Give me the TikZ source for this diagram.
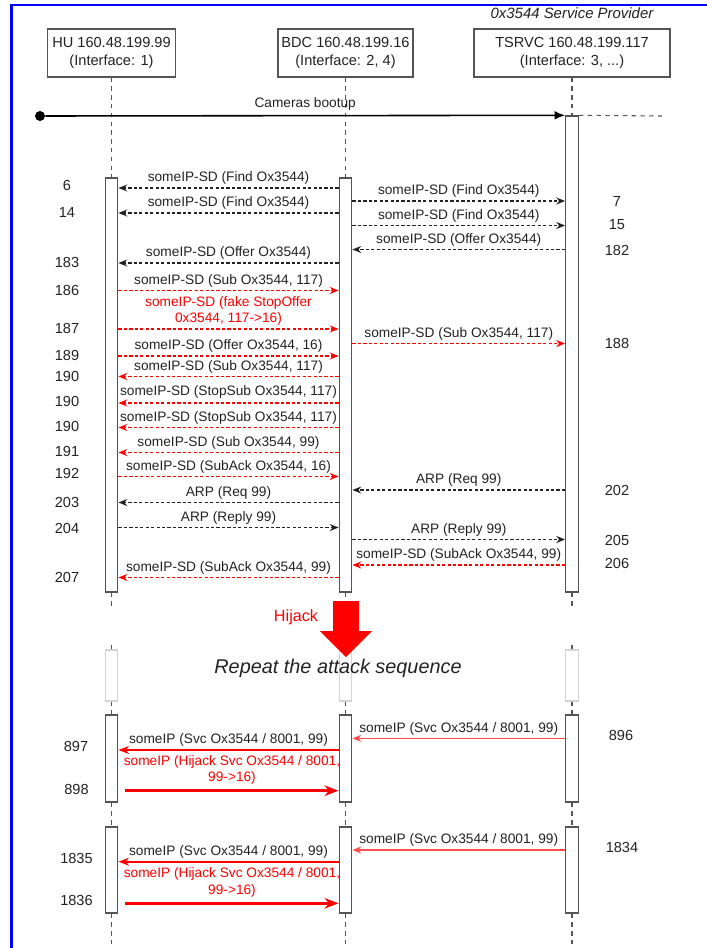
\documentclass[tikz,border=0pt]{standalone}
\usepackage{fontspec}
\setmainfont{Liberation Sans}
\usetikzlibrary{arrows.meta, positioning}
\definecolor{FrameBlue}{HTML}{0000FF}
\definecolor{HackRed}{HTML}{FF0000}
\definecolor{InkGray}{HTML}{222222}
\definecolor{LineGray}{HTML}{555555}
\definecolor{FadeGray}{HTML}{D4D4D4}

\tikzset{
  actor/.style={draw=LineGray, line width=0.8pt, fill=white, align=center,
    text=InkGray, font=\fontsize{8.3}{10.2}\selectfont, inner sep=0pt},
  bar/.style={draw=LineGray, line width=0.8pt, fill=white,
    minimum width=0.25cm, minimum height=#1*0.02cm, inner sep=0pt},
  fadebar/.style={bar=#1, draw=FadeGray},
  lifeline/.style={draw=LineGray, line width=0.6pt, dash pattern=on 2.5pt off 2.5pt},
  msg/.style={draw=InkGray, line width=0.7pt, dash pattern=on 1.8pt off 1.3pt,
    -{Stealth[length=5pt,width=4pt]}},
  msgred/.style={msg, draw=HackRed},
  svc/.style={draw=HackRed!70, line width=0.7pt, -{Stealth[length=5pt,width=4pt]}},
  svcred/.style={draw=HackRed, line width=1.1pt, -{Stealth[length=6pt,width=4.5pt]}},
  hijack/.style={draw=HackRed, line width=2pt, -{Stealth[length=8pt,width=6pt]}},
  lbl/.style={above, inner sep=1.5pt, text=InkGray, font=\fontsize{7.8}{9.4}\selectfont},
  lblred/.style={lbl, text=HackRed, align=center, font=\fontsize{7.8}{9.4}\selectfont},
  num/.style={text=InkGray, font=\fontsize{8.3}{10}\selectfont},
  dot/.style={circle, fill=black, minimum size=0.2cm, inner sep=0pt},
}

\begin{document}
\begin{tikzpicture}[x=0.02cm, y=-0.02cm]
\useasboundingbox (0,0) rectangle (707,948);

% ── Frame ─────────────────────────────────────────────────────────────────────
\draw[FrameBlue, line width=1.4pt] (11.5,948) -- (11.5,5) -- (707,5);

% ── Participants ──────────────────────────────────────────────────────────────
\node[actor, minimum width=2.56cm, minimum height=0.96cm] (huBox) at (111.5,53)
  {HU 160.48.199.99\\(Interface: 1)};
\node[actor, minimum width=2.7cm, minimum height=0.96cm] (bdcBox) at (345.5,53)
  {BDC 160.48.199.16\\(Interface: 2, 4)};
\node[actor, minimum width=3.92cm, minimum height=0.96cm] (tsBox) at (572,53)
  {TSRVC 160.48.199.117\\(Interface: 3, ...)};
\node[above=0.06cm of tsBox, text=InkGray, font=\fontsize{8.5}{10}\selectfont\itshape]
  (provider) {0x3544 Service Provider};

% ── Activation bars ───────────────────────────────────────────────────────────
\node[bar=414] (huA)  at (111.5,385) {};
\node[bar=414] (bdcA) at (345.5,385) {};
\node[bar=476] (tsA)  at (572,354) {};
\foreach \p/\x in {hu/111.5, bdc/345.5, ts/572}{
  \node[fadebar=51] (\p F) at (\x,675.5) {};
  \node[bar=87] (\p B) at (\x,758.5) {};
  \node[bar=86] (\p C) at (\x,870) {};
}

% ── Lifelines ─────────────────────────────────────────────────────────────────
\foreach \p in {hu,bdc,ts}{
  \draw[lifeline] (\p Box) -- (\p A);
  \draw[lifeline] (\p A.south) -- ++(0,14);
  \draw[lifeline] (\p F.north) -- ++(0,-8);
  \draw[lifeline] (\p F) -- (\p B);
  \draw[lifeline] (\p B) -- (\p C);
  \draw[lifeline] (\p C.south) -- ++(0,30);
}

% ── Boot ──────────────────────────────────────────────────────────────────────
\node[dot] (boot) at (40,116) {};
\coordinate (bootend) at (662,116);
\draw[line width=0.9pt, -{Latex[length=6pt,width=5pt]}] (boot) --
  node[lbl, inner sep=2.5pt] (bootlbl) {Cameras bootup} (tsA.north west);
\draw[lifeline] (tsA.north east) -- (bootend);

% ── Discovery ─────────────────────────────────────────────────────────────────
\draw[msg] (bdcA.west |- 0,188) -- node[lbl] (m1) {someIP-SD (Find Ox3544)} (huA.east |- 0,188);
\draw[msg] (bdcA.east |- 0,201) -- node[lbl] (m2) {someIP-SD (Find Ox3544)} (tsA.west |- 0,201);
\draw[msg] (bdcA.west |- 0,213) -- node[lbl] (m3) {someIP-SD (Find Ox3544)} (huA.east |- 0,213);
\draw[msg] (bdcA.east |- 0,225.5) -- node[lbl] (m4) {someIP-SD (Find Ox3544)} (tsA.west |- 0,225.5);
\draw[msg] (tsA.west |- 0,249.5) -- node[lbl] (m5) {someIP-SD (Offer Ox3544)} (bdcA.east |- 0,249.5);
\draw[msg] (bdcA.west |- 0,263) -- node[lbl] (m6) {someIP-SD (Offer Ox3544)} (huA.east |- 0,263);

% ── Attack ────────────────────────────────────────────────────────────────────
\draw[msgred] (huA.east |- 0,290.5) -- node[lbl] (m7) {someIP-SD (Sub Ox3544, 117)} (bdcA.west |- 0,290.5);
\draw[msgred] (huA.east |- 0,329) -- node[lblred] (m8)
  {someIP-SD (fake StopOffer\\0x3544, 117->16)} (bdcA.west |- 0,329);
\draw[msgred] (bdcA.east |- 0,343.5) -- node[lbl] (m9) {someIP-SD (Sub Ox3544, 117)} (tsA.west |- 0,343.5);
\draw[msgred] (huA.east |- 0,356) -- node[lbl] (m10) {someIP-SD (Offer Ox3544, 16)} (bdcA.west |- 0,356);
\draw[msgred] (bdcA.west |- 0,376.5) -- node[lbl] (m11) {someIP-SD (Sub Ox3544, 117)} (huA.east |- 0,376.5);
\draw[msgred] (bdcA.west |- 0,403) -- node[lbl, inner sep=2.5pt] (m12) {someIP-SD (StopSub Ox3544, 117)} (huA.east |- 0,403);
\draw[msgred] (bdcA.west |- 0,427.5) -- node[lbl] (m13) {someIP-SD (StopSub Ox3544, 117)} (huA.east |- 0,427.5);
\draw[msgred] (bdcA.west |- 0,452.5) -- node[lbl] (m14) {someIP-SD (Sub Ox3544, 99)} (huA.east |- 0,452.5);
\draw[msgred] (huA.east |- 0,476.5) -- node[lbl] (m15) {someIP-SD (SubAck Ox3544, 16)} (bdcA.west |- 0,476.5);
\draw[msg] (tsA.west |- 0,490) -- node[lbl] (m16) {ARP (Req 99)} (bdcA.east |- 0,490);
\draw[msg] (bdcA.west |- 0,502.5) -- node[lbl] (m17) {ARP (Req 99)} (huA.east |- 0,502.5);
\draw[msg] (huA.east |- 0,527.5) -- node[lbl] (m18) {ARP (Reply 99)} (bdcA.west |- 0,527.5);
\draw[msg] (bdcA.east |- 0,539.5) -- node[lbl] (m19) {ARP (Reply 99)} (tsA.west |- 0,539.5);
\draw[msgred] (tsA.west |- 0,565) -- node[lbl] (m20) {someIP-SD (SubAck Ox3544, 99)} (bdcA.east |- 0,565);
\draw[msgred] (bdcA.west |- 0,577.5) -- node[lbl] (m21) {someIP-SD (SubAck Ox3544, 99)} (huA.east |- 0,577.5);

% ── Frame numbers ─────────────────────────────────────────────────────────────
\foreach \y/\t [count=\i] in {185/6, 212/14, 262.7/183, 290.7/186, 328.3/187, 355/189,
    376.7/190, 401.7/190, 426.7/190, 451.7/191, 473.3/192, 502.7/203, 528.3/204, 577.3/207}
  \node[num] (nl\i) at (67,\y) {\t};
\foreach \y/\t [count=\i] in {201.7/7, 225/15, 250/182, 343.3/188, 490.7/202, 540/205, 563.3/206}
  \node[num] (nr\i) at (617,\y) {\t};

% ── Hijack ────────────────────────────────────────────────────────────────────
\fill[HackRed] (333,601) -- (359,601) -- (359,631) -- (372,631) -- (346,657)
  -- (320,631) -- (333,631) -- cycle;
\node[text=HackRed, font=\fontsize{9.2}{11}\selectfont] (hijacklbl) at (296,617.5) {Hijack};
\node[text=InkGray, font=\fontsize{11.3}{13}\selectfont\itshape] (repeat) at (338,668.5)
  {Repeat the attack sequence};

% ── Service 896 ───────────────────────────────────────────────────────────────
\draw[svc] (tsB.west |- 0,738.3) -- node[lbl] (s1) {someIP (Svc Ox3544 / 8001, 99)} (bdcB.east |- 0,738.3);
\draw[svcred] (bdcB.west |- 0,750) -- node[lbl] (s2) {someIP (Svc Ox3544 / 8001, 99)} (huB.east |- 0,750);
\draw[hijack] ([xshift=4pt]huB.east |- 0,790.7) -- node[lblred, inner sep=2.5pt] (s3)
  {someIP (Hijack Svc Ox3544 / 8001,\\99->16)} (bdcB.west |- 0,790.7);
\node[num] (n896) at (621,735) {896};
\node[num] (n897) at (76,746.7) {897};
\node[num] (n898) at (76.5,789.3) {898};

% ── Service 1834 ──────────────────────────────────────────────────────────────
\draw[svc] (tsC.west |- 0,850) -- node[lbl] (s4) {someIP (Svc Ox3544 / 8001, 99)} (bdcC.east |- 0,850);
\draw[svcred] (bdcC.west |- 0,861.7) -- node[lbl] (s5) {someIP (Svc Ox3544 / 8001, 99)} (huC.east |- 0,861.7);
\draw[hijack] ([xshift=4pt]huC.east |- 0,903.3) -- node[lblred, inner sep=2.5pt] (s6)
  {someIP (Hijack Svc Ox3544 / 8001,\\99->16)} (bdcC.west |- 0,903.3);
\node[num] (n1834) at (622,847.3) {1834};
\node[num] (n1835) at (76.5,858.3) {1835};
\node[num] (n1836) at (76.5,900) {1836};

\end{tikzpicture}
\end{document}
